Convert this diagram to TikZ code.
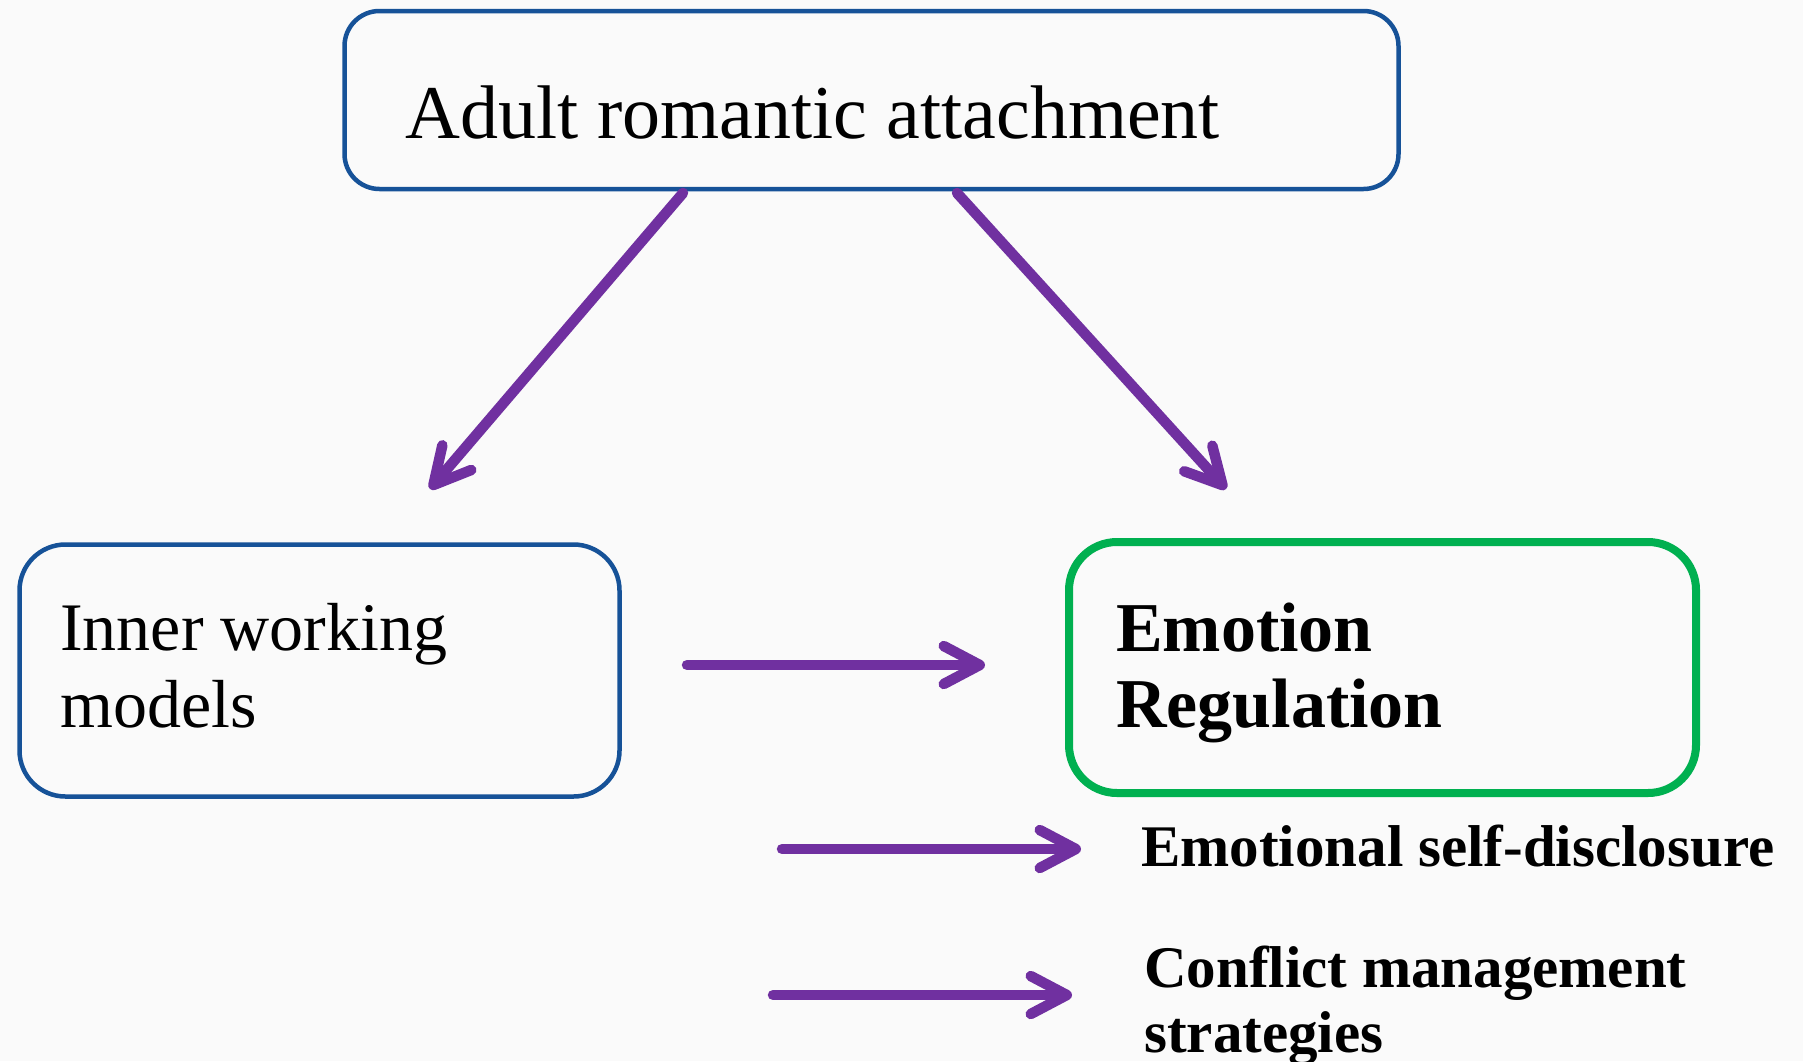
\documentclass[tikz,border=0pt]{standalone}
\usepackage{fontspec}
\setmainfont{Liberation Serif}
\usetikzlibrary{arrows.meta}
\definecolor{boxblue}{RGB}{22,82,152}
\definecolor{arrowpurple}{HTML}{7030A0}
\definecolor{boxgreen}{HTML}{00B050}
\definecolor{bg}{RGB}{250,250,250}
\tikzset{
  bluebox/.style={draw=boxblue, line width=4.5pt, rounded corners=40pt, inner sep=0pt},
  greenbox/.style={draw=boxgreen, line width=8pt, rounded corners=48pt, inner sep=0pt},
  flow/.style={draw=arrowpurple, line width=10.5pt, line cap=round,
    -{Straight Barb[length=36pt,width=38pt,round]}},
  txt/.style={anchor=base west, inner sep=0pt, align=left},
}
\begin{document}
\begin{tikzpicture}[x=1pt,y=-1pt]
\fill[bg] (0,0) rectangle (1803,1061);
\useasboundingbox (0,0) rectangle (1803,1061);
% boxes
\node[bluebox, minimum width=1054pt, minimum height=178pt, rounded corners=35pt] (top) at (871.5,100) {};
\node[bluebox, minimum width=600pt, minimum height=252pt, rounded corners=46pt] (left) at (319.5,670.5) {};
\node[greenbox, minimum width=627pt, minimum height=251pt] (right) at (1382.5,667.5) {};
% texts (multi-line nodes: base = last baseline)
\node[txt, font=\fontsize{76}{77}\selectfont] (toptxt) at (405,138) {Adult romantic attachment};
\node[txt, font=\fontsize{68}{77}\selectfont] (lefttxt) at (60,727) {Inner working\\models};
\node[txt, font=\fontsize{70}{76}\selectfont\bfseries] (righttxt) at (1116,727) {Emotion\\Regulation};
\node[txt, font=\fontsize{59}{65}\selectfont\bfseries] (esd) at (1141,866) {Emotional self-disclosure};
\node[txt, font=\fontsize{59}{65}\selectfont\bfseries] (cms) at (1144,1052) {Conflict management\\strategies};
% arrow endpoints
\coordinate (a1s) at (683,193);
\coordinate (a1e) at (430,489);
\coordinate (a2s) at (957,193);
\coordinate (a2e) at (1226,489);
\coordinate (a3s) at (687,665);
\coordinate (a3e) at (985,665);
\coordinate (a4s) at (782,849);
\coordinate (a4e) at (1081,849);
\coordinate (a5s) at (773,995);
\coordinate (a5e) at (1072,995);
% arrows
\draw[flow] (a1s) -- (a1e);
\draw[flow] (a2s) -- (a2e);
\draw[flow] (a3s) -- (a3e);
\draw[flow] (a4s) -- (a4e);
\draw[flow] (a5s) -- (a5e);
\end{tikzpicture}
\end{document}
